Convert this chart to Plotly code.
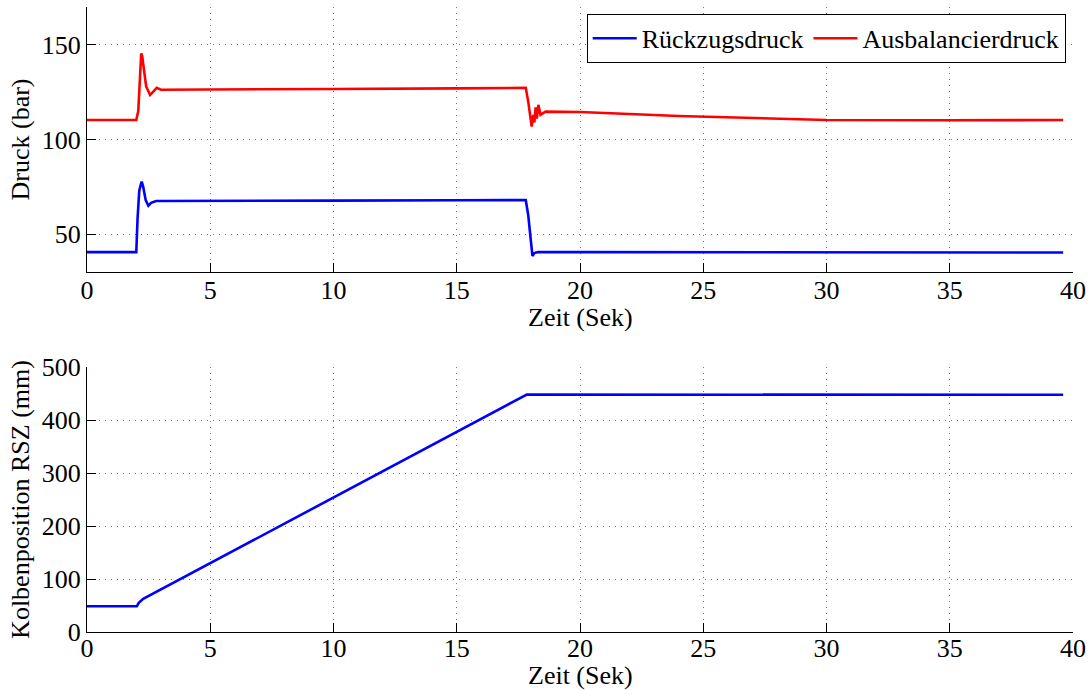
import plotly.graph_objects as go

# ---- data ----
t_ruck = [0, 1.0, 2.0, 2.05, 2.12, 2.18, 2.22, 2.28, 2.38, 2.49, 2.6, 2.8, 5, 10, 15,
          17.8, 17.9, 18.0, 18.07, 18.15, 18.3, 20, 25, 30, 35, 39.6]
ruckzugsdruck = [40.5, 40.6, 40.5, 58, 73, 76, 77.7, 75, 68, 65, 66.5, 67.5, 67.5, 67.7, 67.9,
                 68, 60, 45, 38.5, 40, 40.6, 40.5, 40.4, 40.5, 40.2, 40.3]

t_ausb = [0, 2.0, 2.08, 2.14, 2.2, 2.24, 2.3, 2.4, 2.56, 2.7, 2.83, 3.0, 5, 10, 15,
          17.8, 17.9, 18.04, 18.1, 18.15, 18.2, 18.25, 18.31, 18.4, 18.6, 19, 20, 24, 28, 30, 35, 39.6]
ausbalancierdruck = [110.3, 110.3, 115, 135, 145.5, 144, 137, 128, 123.5, 125.5, 127.3, 126.3, 126.5, 126.7, 127,
                     127.3, 120, 106.8, 113, 109, 117, 111, 118.3, 113, 114.7, 114.6, 114.5, 112.4, 110.8, 110.3, 110.2, 110.3]

t_pos = [0, 2.02, 2.1, 2.28, 17.84, 18.0, 39.6]
kolbenposition = [48.5, 48.5, 55, 62.5, 448, 448, 447.5]

x_ticks = [0, 5, 10, 15, 20, 25, 30, 35, 40]
druck_ticks = [50, 100, 150]
pos_ticks = [0, 100, 200, 300, 400, 500]

x_title = "Zeit (Sek)"
FONT = "Liberation Serif, Times New Roman, DejaVu Serif, serif"
BLUE = "#0000ff"
RED = "#ff0000"

fig = go.Figure()
fig.add_trace(go.Scatter(x=t_ruck, y=ruckzugsdruck, mode="lines", name="Rückzugsdruck",
                         line=dict(color=BLUE, width=2.6), xaxis="x", yaxis="y"))
fig.add_trace(go.Scatter(x=t_ausb, y=ausbalancierdruck, mode="lines", name="Ausbalancierdruck",
                         line=dict(color=RED, width=2.6), xaxis="x", yaxis="y"))
fig.add_trace(go.Scatter(x=t_pos, y=kolbenposition, mode="lines", name="Kolbenposition",
                         line=dict(color=BLUE, width=2.6), xaxis="x2", yaxis="y2", showlegend=False))

axis_common = dict(
    showline=True, linecolor="black", linewidth=1.2, mirror=False,
    ticks="inside", ticklen=9, tickcolor="black", tickwidth=1,
    showgrid=True, gridcolor="#777777", griddash="1px,5px", gridwidth=1,
    zeroline=False, tickfont=dict(family=FONT, size=26, color="black"),
    automargin=False,
)

fig.update_layout(
    width=1091, height=690,
    margin=dict(l=87, r=18, t=7, b=58),
    paper_bgcolor="white", plot_bgcolor="white",
    font=dict(family=FONT, size=26, color="black"),
    showlegend=True,
    legend=dict(x=0.9926, y=0.989, xanchor="right", yanchor="top", orientation="h",
                bordercolor="black", borderwidth=1, bgcolor="white",
                font=dict(family=FONT, size=26, color="black"),
                itemwidth=44, tracegroupgap=0),
    xaxis=dict(domain=[0, 1], range=[0, 40], tickvals=x_ticks, anchor="y",
               ticklabelstandoff=-5, **axis_common),
    yaxis=dict(domain=[0.576, 1], range=[30, 170], tickvals=druck_ticks, anchor="x",
               title=dict(text="Druck (bar)", standoff=4, font=dict(family=FONT, size=26)),
               **axis_common),
    xaxis2=dict(domain=[0, 1], range=[0, 40], tickvals=x_ticks, anchor="y2",
                ticklabelstandoff=-7, **axis_common),
    yaxis2=dict(domain=[0, 0.424], range=[0, 500], tickvals=pos_ticks, anchor="x2",
                title=dict(text="Kolbenposition RSZ (mm)", standoff=4, font=dict(family=FONT, size=26)),
                **axis_common),
)

# x-axis titles placed just under the tick labels
for ypos in (0.5299, -0.0429):
    fig.add_annotation(text=x_title, xref="paper", yref="paper", x=0.5, y=ypos,
                       xanchor="center", yanchor="top", showarrow=False,
                       font=dict(family=FONT, size=26, color="black"))

fig.write_html("out.html")
